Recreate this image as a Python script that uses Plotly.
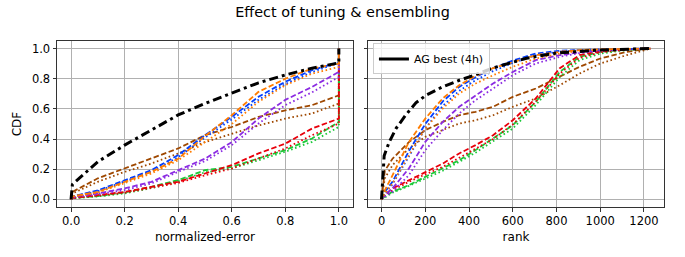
import plotly.graph_objects as go
from plotly.subplots import make_subplots

# ---------------- data ----------------
err_x = [0, 0.005, 0.1, 0.2, 0.3, 0.4, 0.5, 0.6, 0.7, 0.8, 0.9, 1.0, 1.0]
err_black = [0.0, 0.10, 0.25, 0.36, 0.46, 0.56, 0.636, 0.705, 0.773, 0.825, 0.87, 0.905, 1.0]
err_blue_dash = [0.0, 0.02, 0.06, 0.128, 0.194, 0.294, 0.426, 0.547, 0.68, 0.78, 0.857, 0.91, 1.0]
err_blue_dot = [0.0, 0.02, 0.055, 0.12, 0.185, 0.28, 0.41, 0.53, 0.66, 0.765, 0.845, 0.905, 1.0]
err_orange_dash = [0.0, 0.02, 0.05, 0.117, 0.183, 0.27, 0.42, 0.558, 0.713, 0.80, 0.868, 0.90, 1.0]
err_orange_dot = [0.0, 0.02, 0.045, 0.106, 0.172, 0.26, 0.38, 0.50, 0.647, 0.757, 0.834, 0.878, 1.0]
err_brown_dash = [0.0, 0.05, 0.14, 0.205, 0.27, 0.338, 0.426, 0.48, 0.547, 0.59, 0.625, 0.69, 1.0]
err_brown_dot = [0.0, 0.04, 0.117, 0.183, 0.238, 0.305, 0.38, 0.437, 0.49, 0.536, 0.57, 0.636, 1.0]
err_purple_dash = [0.0, 0.02, 0.04, 0.073, 0.117, 0.194, 0.27, 0.38, 0.536, 0.66, 0.746, 0.845, 1.0]
err_purple_dot = [0.0, 0.015, 0.035, 0.062, 0.106, 0.183, 0.254, 0.36, 0.503, 0.625, 0.71, 0.812, 1.0]
err_red_dash = [0.0, 0.01, 0.029, 0.05, 0.084, 0.117, 0.172, 0.227, 0.305, 0.37, 0.47, 0.536, 1.0]
err_red_dot = [0.0, 0.01, 0.025, 0.045, 0.078, 0.11, 0.16, 0.205, 0.272, 0.338, 0.426, 0.503, 1.0]
err_green_dash = [0.0, 0.01, 0.022, 0.046, 0.084, 0.128, 0.194, 0.216, 0.272, 0.327, 0.404, 0.514, 1.0]
err_green_dot = [0.0, 0.008, 0.02, 0.04, 0.075, 0.12, 0.18, 0.205, 0.26, 0.316, 0.382, 0.481, 1.0]

rank_black_x = [0, 5, 12, 35, 66, 111, 157, 203, 279, 356, 417, 508, 600, 663, 800, 1000, 1230]
rank_black = [0, 0.16, 0.29, 0.38, 0.47, 0.56, 0.64, 0.69, 0.746, 0.79, 0.82, 0.87, 0.91, 0.936, 0.97, 0.99, 1.0]
rank_x = [0, 15, 50, 125, 200, 280, 355, 430, 510, 600, 705, 815, 905, 1000, 1120, 1230]
rank_blue_dash = [0, 0.05, 0.117, 0.32, 0.50, 0.65, 0.746, 0.81, 0.87, 0.92, 0.967, 0.985, 0.99, 0.995, 0.998, 1.0]
rank_blue_dot = [0, 0.04, 0.10, 0.29, 0.47, 0.62, 0.72, 0.79, 0.85, 0.905, 0.955, 0.98, 0.99, 0.995, 0.998, 1.0]
rank_orange_dash = [0, 0.06, 0.16, 0.38, 0.536, 0.67, 0.757, 0.82, 0.87, 0.912, 0.956, 0.978, 0.99, 0.995, 0.998, 1.0]
rank_orange_dot = [0, 0.04, 0.106, 0.294, 0.47, 0.603, 0.702, 0.768, 0.823, 0.879, 0.934, 0.967, 0.985, 0.993, 0.997, 1.0]
rank_purple_dash = [0, 0.03, 0.073, 0.205, 0.382, 0.514, 0.614, 0.691, 0.768, 0.845, 0.923, 0.956, 0.975, 0.99, 0.997, 1.0]
rank_purple_dot = [0, 0.02, 0.051, 0.161, 0.327, 0.459, 0.57, 0.658, 0.735, 0.823, 0.901, 0.945, 0.97, 0.985, 0.995, 1.0]
rank_brown_dash = [0, 0.19, 0.27, 0.38, 0.459, 0.514, 0.558, 0.581, 0.614, 0.68, 0.735, 0.812, 0.879, 0.934, 0.978, 1.0]
rank_brown_dot = [0, 0.14, 0.227, 0.338, 0.415, 0.459, 0.503, 0.525, 0.558, 0.614, 0.669, 0.757, 0.834, 0.901, 0.956, 1.0]
rank_red_dash = [0, 0.03, 0.073, 0.128, 0.183, 0.238, 0.305, 0.36, 0.426, 0.525, 0.669, 0.87, 0.956, 0.982, 0.996, 1.0]
rank_red_dot = [0, 0.025, 0.06, 0.117, 0.166, 0.216, 0.276, 0.338, 0.40, 0.497, 0.647, 0.834, 0.938, 0.975, 0.993, 1.0]
rank_green_dash = [0, 0.02, 0.051, 0.095, 0.15, 0.205, 0.26, 0.327, 0.404, 0.492, 0.647, 0.845, 0.945, 0.978, 0.993, 1.0]
rank_green_dot = [0, 0.015, 0.045, 0.09, 0.139, 0.19, 0.249, 0.31, 0.386, 0.47, 0.625, 0.812, 0.923, 0.967, 0.99, 1.0]

x_ticks_err = [0.0, 0.2, 0.4, 0.6, 0.8, 1.0]
x_ticks_rank = [0, 200, 400, 600, 800, 1000, 1200]
y_ticks = [0.0, 0.2, 0.4, 0.6, 0.8, 1.0]

# ---------------- style ----------------
BLUE, ORANGE, GREEN, RED, PURPLE, BROWN = "#023eff", "#ff7c00", "#1ac938", "#e8000b", "#8b2be2", "#9f4800"
DASH = "5.5px,2.5px"
DOT = "1.6px,2.6px"

series = [
    (err_brown_dash, rank_brown_dash, BROWN, DASH),
    (err_brown_dot, rank_brown_dot, BROWN, DOT),
    (err_green_dash, rank_green_dash, GREEN, DASH),
    (err_green_dot, rank_green_dot, GREEN, DOT),
    (err_red_dash, rank_red_dash, RED, DASH),
    (err_red_dot, rank_red_dot, RED, DOT),
    (err_purple_dash, rank_purple_dash, PURPLE, DASH),
    (err_purple_dot, rank_purple_dot, PURPLE, DOT),
    (err_blue_dash, rank_blue_dash, BLUE, DASH),
    (err_blue_dot, rank_blue_dot, BLUE, DOT),
    (err_orange_dash, rank_orange_dash, ORANGE, DASH),
    (err_orange_dot, rank_orange_dot, ORANGE, DOT),
]

fig = make_subplots(rows=1, cols=2, shared_yaxes=True, horizontal_spacing=0.025)

for ey, ry, c, d in series:
    fig.add_trace(go.Scatter(x=err_x, y=ey, mode="lines", showlegend=False,
                             line=dict(color=c, dash=d, width=1.8)), row=1, col=1)
    fig.add_trace(go.Scatter(x=rank_x, y=ry, mode="lines", showlegend=False,
                             line=dict(color=c, dash=d, width=1.8)), row=1, col=2)

BD = "9px,4px,3px,4px"
fig.add_trace(go.Scatter(x=err_x, y=err_black, mode="lines", showlegend=False,
                         line=dict(color="black", dash=BD, width=3)), row=1, col=1)
fig.add_trace(go.Scatter(x=rank_black_x, y=rank_black, mode="lines", showlegend=False,
                         legendgroup="ag", line=dict(color="black", dash=BD, width=3)), row=1, col=2)
# legend entry (short solid sample like the original)
fig.add_trace(go.Scatter(x=[None], y=[None], mode="lines", name="AG best (4h)", legendgroup="ag",
                         line=dict(color="black", width=3)), row=1, col=2)

tfont = dict(family="DejaVu Sans", size=11.5, color="black")
lfont = dict(family="DejaVu Sans", size=12, color="black")
axis_common = dict(showline=True, linecolor="#333333", linewidth=1, mirror=True,
                   showgrid=True, gridcolor="#b0b0b0", gridwidth=1, zeroline=False,
                   ticks="outside", ticklen=3.5, tickcolor="#333333", tickfont=tfont,
                   automargin=False)

fig.update_xaxes(axis_common)
fig.update_yaxes(axis_common)
fig.update_xaxes(range=[-0.0525, 1.0525], tickvals=x_ticks_err, tickformat=".1f",
                 title=dict(text="normalized-error", font=lfont, standoff=5), row=1, col=1)
fig.update_xaxes(range=[-61.5, 1291.5], tickvals=x_ticks_rank,
                 title=dict(text="rank", font=lfont, standoff=5), row=1, col=2)
fig.update_yaxes(range=[-0.05, 1.05], tickvals=y_ticks, tickformat=".1f",
                 title=dict(text="CDF", font=lfont, standoff=7), row=1, col=1)
fig.update_yaxes(range=[-0.05, 1.05], tickvals=y_ticks, showticklabels=False, row=1, col=2)

fig.update_layout(
    width=685, height=257,
    margin=dict(l=57, r=21, t=41, b=50),
    plot_bgcolor="white", paper_bgcolor="white",
    title=dict(text="Effect of tuning &amp; ensembling", x=0.5, xanchor="center", y=0.952, yanchor="middle",
               font=dict(family="DejaVu Sans", size=14.4, color="black")),
    font=tfont,
    legend=dict(x=0.02, y=0.98, xanchor="left", yanchor="top", xref="paper",
                bgcolor="rgba(255,255,255,0.8)", bordercolor="#cccccc", borderwidth=1,
                font=dict(family="DejaVu Sans", size=11, color="black"),
                itemwidth=30, tracegroupgap=0),
)
dom = fig.layout.xaxis2.domain
fig.update_layout(legend=dict(x=dom[0] + 0.008, y=0.985))

fig.write_html("out.html", config={"displayModeBar": False},
               post_script="document.body.style.margin='0';")
